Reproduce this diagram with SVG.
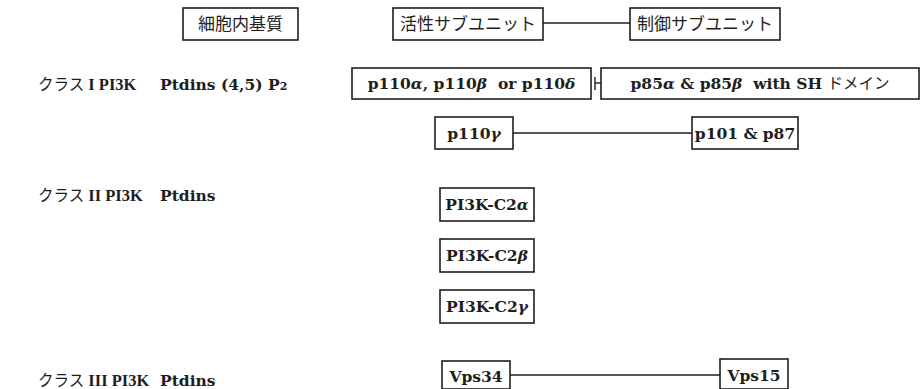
<svg xmlns="http://www.w3.org/2000/svg" width="921" height="389" viewBox="0 0 921 389">
<style>
.box{fill:#fff;stroke:#1e1e1e;stroke-width:1.6}
.ln{stroke:#1e1e1e;stroke-width:1.4;fill:none}
.jp{font-family:"Noto Sans CJK JP","Noto Sans",sans-serif;font-size:17px;fill:#1e1e1e}
.jps{font-family:"Noto Sans CJK JP","Noto Sans",sans-serif;font-size:15.5px;fill:#1e1e1e}
.lat{font-family:"DejaVu Serif","Liberation Serif",serif;font-weight:bold;font-size:15.5px;fill:#1e1e1e}
.cls{font-family:"Liberation Serif","DejaVu Serif",serif;font-weight:bold;font-size:16.5px;fill:#1e1e1e}
.gr{font-style:italic}
.sub{font-size:11px}
</style>
<rect width="921" height="389" fill="#fff"/>
<g id="header-cyto"><rect class="box" x="183" y="8" width="115" height="32"/><text class="jp" x="240.5" y="30" text-anchor="middle">細胞内基質</text></g>
<g id="header-active"><rect class="box" x="393" y="8" width="150" height="32"/><text class="jp" x="468" y="30" text-anchor="middle">活性サブユニット</text></g>
<g id="header-reg"><rect class="box" x="630" y="8" width="150" height="32"/><text class="jp" x="705" y="30" text-anchor="middle">制御サブユニット</text></g>

<g id="class1-label"><text x="38" y="90"><tspan class="jps">クラス</tspan><tspan class="cls"> I PI3K</tspan></text></g>
<g id="class1-substrate"><text class="lat" x="160" y="90">Ptdins (4,5) P<tspan class="sub">2</tspan></text></g>
<g id="p110abd"><rect class="box" x="352" y="68" width="239" height="31"/><text class="lat" x="471.5" y="89" text-anchor="middle" xml:space="preserve">p110<tspan class="gr">α</tspan>, p110<tspan class="gr">β</tspan>  or p110<tspan class="gr">δ</tspan></text></g>
<g id="p85"><rect class="box" x="601" y="68" width="318" height="31"/><text x="760" y="89" text-anchor="middle" xml:space="preserve"><tspan class="lat">p85<tspan class="gr">α</tspan> &amp; p85<tspan class="gr">β</tspan>  with SH </tspan><tspan class="jps">ドメイン</tspan></text></g>
<g id="p110g"><rect class="box" x="435" y="117" width="78" height="32"/><text class="lat" x="474" y="139" text-anchor="middle">p110<tspan class="gr">γ</tspan></text></g>
<g id="p101"><rect class="box" x="692" y="117" width="106" height="32"/><text class="lat" x="745" y="139" text-anchor="middle">p101 &amp; p87</text></g>

<g id="class2-label"><text x="38" y="201"><tspan class="jps">クラス</tspan><tspan class="cls"> II PI3K</tspan></text></g>
<g id="class2-substrate"><text class="lat" x="160" y="201">Ptdins</text></g>
<g id="c2a"><rect class="box" x="440" y="188" width="94" height="33"/><text class="lat" x="487" y="210" text-anchor="middle">PI3K-C2<tspan class="gr">α</tspan></text></g>
<g id="c2b"><rect class="box" x="440" y="239" width="94" height="33"/><text class="lat" x="487" y="261" text-anchor="middle">PI3K-C2<tspan class="gr">β</tspan></text></g>
<g id="c2g"><rect class="box" x="440" y="290" width="94" height="33"/><text class="lat" x="487" y="312" text-anchor="middle">PI3K-C2<tspan class="gr">γ</tspan></text></g>

<g id="class3-label"><text x="38" y="386"><tspan class="jps">クラス</tspan><tspan class="cls"> III PI3K</tspan></text></g>
<g id="class3-substrate"><text class="lat" x="160" y="386">Ptdins</text></g>
<g id="vps34"><rect class="box" x="442" y="361" width="68" height="28"/><text class="lat" x="476" y="382" text-anchor="middle">Vps34</text></g>
<g id="vps15"><rect class="box" x="720" y="359" width="68" height="30"/><text class="lat" x="754" y="381" text-anchor="middle">Vps15</text></g>

<g id="connectors">
<line class="ln" x1="543" y1="23" x2="630" y2="23"/>
<line class="ln" x1="595" y1="77" x2="595" y2="90"/>
<line class="ln" x1="595" y1="83" x2="601" y2="83"/>
<line class="ln" x1="513" y1="133" x2="692" y2="133"/>
<line class="ln" x1="510" y1="375" x2="720" y2="375"/>
</g>
</svg>
